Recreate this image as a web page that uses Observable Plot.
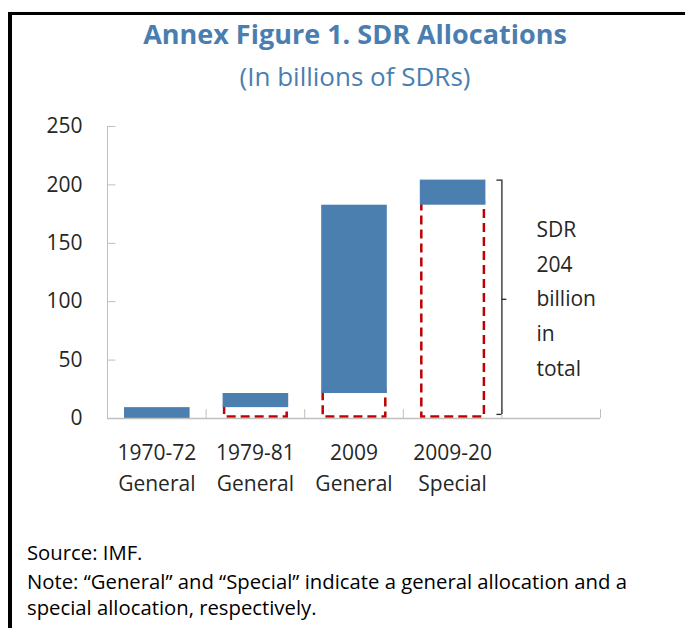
<!DOCTYPE html>
<html><head><meta charset="utf-8">
<script src="https://cdn.jsdelivr.net/npm/d3@7"></script>
<script src="https://cdn.jsdelivr.net/npm/@observablehq/plot@0.6"></script>
<style>
html,body{margin:0;padding:0;background:#fff;}
body{width:685px;height:628px;overflow:hidden;position:relative;font-family:"Open Sans",sans-serif;}
#frame{position:absolute;left:8px;top:12px;width:760px;height:700px;border-left:4px solid #000;border-top:3px solid #000;box-sizing:border-box;}
.t{position:absolute;left:0;width:710px;text-align:center;white-space:nowrap;color:#4a7eb0;}
#title{top:19px;font-size:27px;font-weight:700;line-height:30px;}
#subtitle{top:60px;font-size:26px;line-height:32px;}
#chart{position:absolute;left:0;top:100px;}
.foot{position:absolute;left:27px;font-size:20.3px;line-height:27px;color:#000;white-space:nowrap;}
</style></head>
<body>
<div id="frame"></div>
<div class="t" id="title">Annex Figure 1. SDR Allocations</div>
<div class="t" id="subtitle">(In billions of SDRs)</div>
<div id="chart"></div>
<div class="foot" style="top:539px">Source: IMF.</div>
<div class="foot" style="top:568px">Note: “General” and “Special” indicate a general allocation and a</div>
<div class="foot" style="top:594px">special allocation, respectively.</div>
<script>
const categories = ["1970-72\nGeneral", "1979-81\nGeneral", "2009\nGeneral", "2009-20\nSpecial"];
const allocations = [9.3, 12.1, 161.2, 21.5];
const yTicks = [0, 50, 100, 150, 200, 250];
const bracketNote = "SDR\n204\nbillion\nin\ntotal";

let cum = 0;
const rows = categories.map((c, i) => { const base = cum; cum += allocations[i]; return {i, c, base, top: cum}; });
const total = cum;
const axisGray = "#bfbfbf";
const ink = "#262626";

const chart = Plot.plot({
  width: 685,
  height: 400,
  marginTop: 26,
  marginBottom: 82,
  marginLeft: 107,
  marginRight: 85,
  style: {fontFamily: "'Open Sans', sans-serif", fontSize: "21px", color: ink, background: "transparent", overflow: "visible"},
  x: {type: "linear", domain: [0, 5]},
  y: {domain: [0, 250]},
  marks: [
    Plot.ruleX([0], {y1: 0, y2: 250, stroke: axisGray}),
    Plot.ruleY(yTicks, {y: d => d, x1: 0, x2: 0.085, stroke: axisGray}),
    Plot.ruleX([1, 2, 3, 4, 5], {x: d => d, y1: 0, y2: 7.5, stroke: axisGray}),
    Plot.rectY(rows.filter(d => d.base > 0), {x1: d => d.i, x2: d => d.i + 1, y1: 0, y2: d => d.base, fill: "none", stroke: "#c00000", strokeWidth: 2.5, strokeDasharray: "9,5", insetLeft: 18.5, insetRight: 17.5, insetTop: -3, insetBottom: 1.5}),
    Plot.rectY(rows, {x1: d => d.i, x2: d => d.i + 1, y1: d => d.base, y2: d => d.top, fill: "#4a7fb0", insetLeft: 17, insetRight: 16}),
    Plot.ruleY([0], {x1: 0, x2: 5, stroke: axisGray, strokeWidth: 1.5}),
    Plot.ruleX([4], {y1: 3.5, y2: total, stroke: ink, strokeWidth: 1.3}),
    Plot.ruleY([3.5, total], {y: d => d, x1: 3.95, x2: 4, stroke: ink, strokeWidth: 1.3}),
    Plot.ruleY([total / 2], {y: d => d, x1: 4, x2: 4.05, stroke: ink, strokeWidth: 1.3}),
    Plot.text([bracketNote], {x: 4.35, y: total / 2, dy: -4, text: d => d, textAnchor: "start", lineHeight: 1.65, fontSize: 21, fill: ink}),
    Plot.axisY(yTicks, {tickSize: 0, tickPadding: 25, fontSize: 21, label: null, fill: ink}),
    Plot.axisX([0.5, 1.5, 2.5, 3.5], {tickSize: 0, tickPadding: 20, tickFormat: d => categories[Math.floor(d)], lineHeight: 1.45, fontSize: 21, label: null, fill: ink})
  ]
});
document.getElementById("chart").appendChild(chart);
</script>
</body></html>
